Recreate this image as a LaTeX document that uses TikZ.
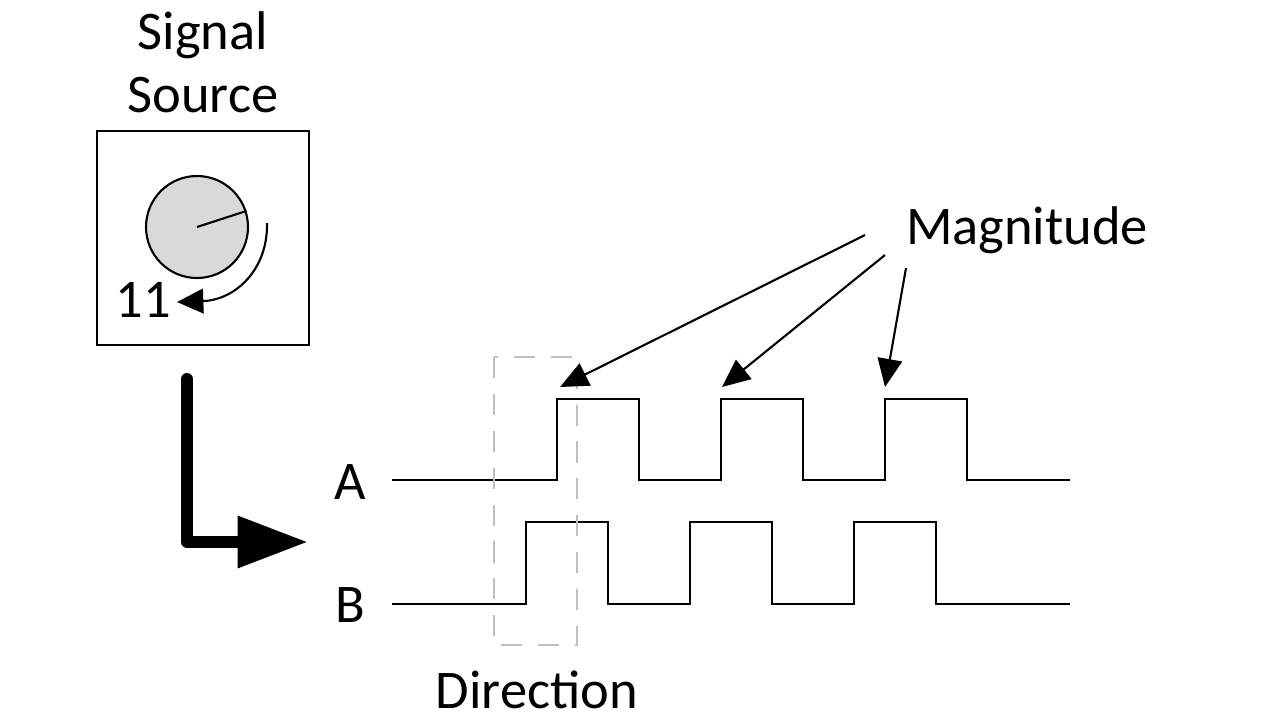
\documentclass[tikz,border=0pt]{standalone}
\usepackage{fontspec}
\setmainfont{Carlito}
\usetikzlibrary{arrows.meta}
\tikzset{every node/.style={font=\fontsize{31}{36}\selectfont, inner sep=0pt},
  wave/.style={black, line width=1.6pt, line join=miter},
  dirbox/.style={black!25, line width=1.1pt, dash pattern=on 12pt off 9pt},
  magarrow/.style={black, line width=1.2pt, -{Triangle[length=16pt, width=14pt]}},
  bigarrow/.style={black, line width=6.8pt, line cap=round, line join=round, -{Triangle[length=40pt, width=28pt]}}}

\begin{document}
\begin{tikzpicture}[x=0.02cm, y=-0.02cm]
  \fill[white] (0,0) rectangle (1280,721);
  \useasboundingbox (0,0) rectangle (1280,721);
  \begin{scope}
   \node[align=center] (title) at (203, 62) {Signal\\Source};
   \node[draw, line width=1.4pt, minimum width=212*0.02cm, minimum height=214*0.02cm] (src) at (203, 238) {};
   \node[circle, draw, line width=1.2pt, fill=black!15, minimum size=102*0.02cm] (knob) at (197, 227) {};
   \draw[line width=1.2pt] (knob.center) -- (knob.18);
   \coordinate (r1) at (267, 223);
   \coordinate (r2) at (177, 302);
   \draw[line width=1.2pt, -{Triangle[length=15pt, width=14pt]}] (r1)
    .. controls (268, 270) and (235, 300) .. (r2);
   \node (count) at (143, 300) {11};
  \end{scope}
  \coordinate (b1) at (187, 379);
  \coordinate (b2) at (308, 542);
  \draw[bigarrow] (b1) |- (b2);
  \begin{scope}
   \node (lblA) at (350, 482) {A};
   \node (lblB) at (350, 605) {B};
   \draw[wave] (392, 480) -| (557, 399) -| (639, 480) -| (721, 399) -| (803, 480)
    -| (885, 399) -| (967, 480) -- (1070, 480);
   \draw[wave] (392, 604) -| (526, 522) -| (608, 604) -| (690, 522) -| (772, 604)
    -| (854, 522) -| (936, 604) -- (1070, 604);
   \draw[dirbox] (494, 357) rectangle (577, 645);
   \node (dir) at (537, 690) {Direction};
  \end{scope}
  \node (mag) at (1027, 230) {Magnitude};
  \coordinate (m1) at (865, 235);
  \coordinate (m2) at (885, 255);
  \coordinate (m3) at (906, 268);
  \coordinate (t1) at (560, 387);
  \coordinate (t2) at (722, 387);
  \coordinate (t3) at (885, 387);
  \draw[magarrow] (m1) -- (t1);
  \draw[magarrow] (m2) -- (t2);
  \draw[magarrow] (m3) -- (t3);
\end{tikzpicture}
\end{document}
